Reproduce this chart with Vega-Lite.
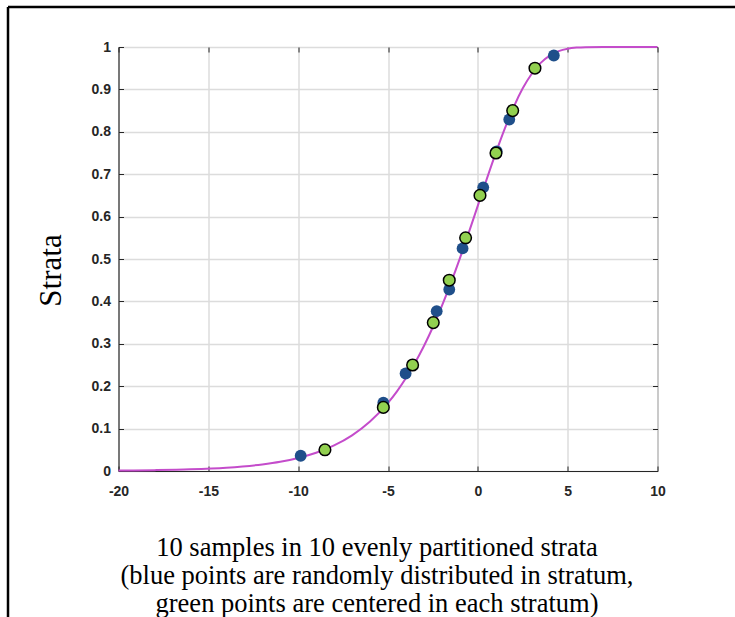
{
  "$schema": "https://vega.github.io/schema/vega-lite/v6.json",
  "width": 539,
  "height": 424,
  "autosize": "none",
  "padding": {"left": 118.5, "top": 47, "right": 77.5, "bottom": 146},
  "background": "white",
  "config": {
    "view": {"stroke": "#262626", "strokeWidth": 1},
    "axis": {
      "labelFont": "Liberation Sans",
      "labelFontWeight": "bold",
      "labelFontSize": 14,
      "labelColor": "#262626",
      "tickColor": "#262626",
      "domainColor": "#262626",
      "gridColor": "#dcdcdc",
      "gridWidth": 1.5
    }
  },
  "datasets": {
    "curve": [
      {"x": -20, "y": 0.001}, {"x": -18, "y": 0.002}, {"x": -16, "y": 0.0039}, {"x": -14, "y": 0.0078},
      {"x": -12, "y": 0.0156}, {"x": -11, "y": 0.0219}, {"x": -10, "y": 0.0308}, {"x": -9, "y": 0.0431},
      {"x": -8, "y": 0.0604}, {"x": -7, "y": 0.0842}, {"x": -6, "y": 0.1168}, {"x": -5, "y": 0.1608},
      {"x": -4.5, "y": 0.188}, {"x": -4, "y": 0.2192}, {"x": -3.5, "y": 0.2548}, {"x": -3, "y": 0.2948},
      {"x": -2.5, "y": 0.3397}, {"x": -2, "y": 0.3893}, {"x": -1.5, "y": 0.4435}, {"x": -1, "y": 0.5015},
      {"x": -0.5, "y": 0.5627}, {"x": 0, "y": 0.6258}, {"x": 0.5, "y": 0.689}, {"x": 1, "y": 0.7503},
      {"x": 1.5, "y": 0.8077}, {"x": 2, "y": 0.859}, {"x": 2.5, "y": 0.9025}, {"x": 3, "y": 0.937},
      {"x": 3.5, "y": 0.9626}, {"x": 4, "y": 0.9798}, {"x": 4.5, "y": 0.9903}, {"x": 5, "y": 0.996},
      {"x": 5.5, "y": 0.9986}, {"x": 6, "y": 0.9996}, {"x": 7, "y": 1.0}, {"x": 8, "y": 1.0}, {"x": 10, "y": 1.0}
    ],
    "blue": [
      {"x": -9.86, "y": 0.036}, {"x": -5.26, "y": 0.161}, {"x": -4.02, "y": 0.23}, {"x": -2.29, "y": 0.377},
      {"x": -1.59, "y": 0.428}, {"x": -0.85, "y": 0.525}, {"x": 0.3, "y": 0.669}, {"x": 1.05, "y": 0.754},
      {"x": 1.75, "y": 0.829}, {"x": 4.23, "y": 0.98}
    ],
    "green": [
      {"x": -8.51, "y": 0.05}, {"x": -5.26, "y": 0.15}, {"x": -3.63, "y": 0.25}, {"x": -2.48, "y": 0.35},
      {"x": -1.59, "y": 0.45}, {"x": -0.68, "y": 0.55}, {"x": 0.12, "y": 0.65}, {"x": 1.01, "y": 0.75},
      {"x": 1.94, "y": 0.85}, {"x": 3.18, "y": 0.95}
    ]
  },
  "resolve": {"axis": {"x": "independent", "y": "independent"}},
  "layer": [
    {
      "data": {"name": "curve"},
      "mark": {"type": "line", "color": "#c44ccb", "strokeWidth": 2, "interpolate": "monotone"},
      "encoding": {
        "x": {"field": "x", "type": "quantitative", "scale": {"domain": [-20, 10], "nice": false, "zero": false},
          "axis": {"values": [-20, -15, -10, -5, 0, 5, 10], "labelExpr": "'' + datum.value",
            "tickSize": -5, "labelPadding": 18, "grid": true, "labelFlush": false,
            "title": ["10 samples in 10 evenly partitioned strata", "(blue points are randomly distributed in stratum,", "green points are centered in each stratum)"],
            "titleFont": "Liberation Serif", "titleFontSize": 26.5, "titleFontWeight": "normal", "titleColor": "black",
            "titleLineHeight": 28, "titleX": 258, "titleY": 63, "titleAlign": "center", "titleBaseline": "top", "titleAnchor": null}},
        "y": {"field": "y", "type": "quantitative", "scale": {"domain": [0, 1], "nice": false},
          "axis": {"values": [0, 0.1, 0.2, 0.3, 0.4, 0.5, 0.6, 0.7, 0.8, 0.9, 1], "labelExpr": "'' + datum.value",
            "tickSize": -5, "labelPadding": 13, "grid": true, "labelFlush": false,
            "title": "Strata", "titleFont": "Liberation Serif", "titleFontSize": 31, "titleFontWeight": "normal",
            "titleColor": "black", "titleX": -67, "titleY": 223, "titleAngle": -90, "titleAlign": "center", "titleBaseline": "middle"}}
      }
    },
    {
      "data": {"name": "blue"},
      "mark": {"type": "circle", "color": "#1f4f8a", "opacity": 1, "size": 140},
      "encoding": {
        "x": {"field": "x", "type": "quantitative",
          "axis": {"orient": "top", "values": [-20, -15, -10, -5, 0, 5, 10], "labels": false, "grid": false, "domain": false, "tickSize": -5, "title": null}},
        "y": {"field": "y", "type": "quantitative",
          "axis": {"orient": "right", "values": [0, 0.1, 0.2, 0.3, 0.4, 0.5, 0.6, 0.7, 0.8, 0.9, 1], "labels": false, "grid": false, "domain": false, "tickSize": -5, "title": null}}
      }
    },
    {
      "data": {"name": "green"},
      "mark": {"type": "circle", "color": "#92d050", "opacity": 1, "size": 135, "stroke": "black", "strokeWidth": 1.5},
      "encoding": {
        "x": {"field": "x", "type": "quantitative", "axis": null},
        "y": {"field": "y", "type": "quantitative", "axis": null}
      }
    },
    {
      "data": {"values": [{}]},
      "mark": {"type": "rule", "color": "black", "strokeWidth": 2.5},
      "encoding": {
        "x": {"datum": -26.15, "type": "quantitative", "axis": null},
        "x2": {"datum": 14.4},
        "y": {"datum": 1.0943, "type": "quantitative", "axis": null}
      }
    },
    {
      "data": {"values": [{}]},
      "mark": {"type": "rule", "color": "black", "strokeWidth": 2.5},
      "encoding": {
        "x": {"datum": -26.15, "type": "quantitative", "axis": null},
        "y": {"datum": 1.0943, "type": "quantitative", "axis": null},
        "y2": {"datum": -0.36}
      }
    }
  ]
}
